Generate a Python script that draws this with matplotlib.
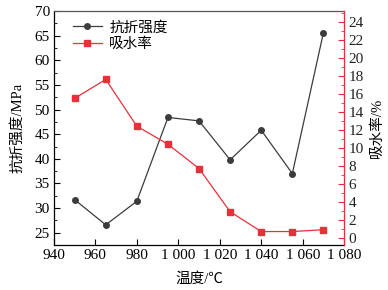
import matplotlib.pyplot as plt
from matplotlib.ticker import MultipleLocator, FuncFormatter

plt.rcParams['font.family'] = ['Liberation Serif', 'Noto Sans CJK SC', 'DejaVu Sans']

temps = [950, 965, 980, 995, 1010, 1025, 1040, 1055, 1070]
strength = [31.7, 26.6, 31.4, 48.4, 47.7, 39.8, 45.8, 37.0, 65.6]
water = [15.5, 17.6, 12.4, 10.4, 7.7, 2.9, 0.7, 0.7, 0.9]

red = '#e8303a'
dark = '#3c3c3c'

fig = plt.figure(figsize=(3.88, 2.9), dpi=100)
ax = fig.add_axes([0.139, 0.155, 0.748, 0.807])
ax2 = ax.twinx()

l1, = ax.plot(temps, strength, color=dark, marker='o', markersize=4, lw=0.9, label='抗折强度')
l2, = ax2.plot(temps, water, color=red, marker='s', markersize=4, lw=0.9, label='吸水率')

ax.set_xlim(940, 1080)
ax.set_ylim(22.5, 70)
ax2.set_ylim(-0.8, 25.2)

ax.xaxis.set_major_locator(MultipleLocator(20))
ax.xaxis.set_major_formatter(FuncFormatter(lambda v, p: f'{int(v):,}'.replace(',', ' ')))
ax.yaxis.set_major_locator(MultipleLocator(5))
ax.yaxis.set_minor_locator(MultipleLocator(2.5))
ax2.yaxis.set_major_locator(MultipleLocator(2))
ax2.yaxis.set_minor_locator(MultipleLocator(1))

ax.tick_params(axis='both', which='both', direction='in', labelsize=11, pad=3)
ax.tick_params(axis='x', which='major', length=4)
ax.tick_params(axis='y', which='major', length=4)
ax.tick_params(axis='y', which='minor', length=2)
ax.tick_params(axis='x', which='both', top=False)
ax2.tick_params(axis='y', which='both', direction='in', colors=red, labelcolor='#222222', labelsize=11, pad=3)
ax2.tick_params(axis='y', which='major', length=4)
ax2.tick_params(axis='y', which='minor', length=2)

for sp in ['left', 'bottom', 'top']:
    ax2.spines[sp].set_visible(False)
ax2.spines['right'].set_color(red)
ax.spines['right'].set_visible(False)
ax.spines['top'].set_color('#555555')
for sp in ax.spines.values():
    sp.set_linewidth(0.9)
ax2.spines['right'].set_linewidth(0.9)

ax.set_xlabel('温度/℃', fontsize=10.5, labelpad=7)
ax.set_ylabel('抗折强度/MPa', fontsize=10.5, labelpad=7)
ax2.set_ylabel('吸水率/%', fontsize=10.5, labelpad=5)

leg = ax.legend(handles=[l1, l2], loc='upper left', bbox_to_anchor=(0.02, 1.015), frameon=False,
                fontsize=10.5, handlelength=2.0, handletextpad=0.5, labelspacing=0.2)

fig.savefig('out.png', dpi=100)
